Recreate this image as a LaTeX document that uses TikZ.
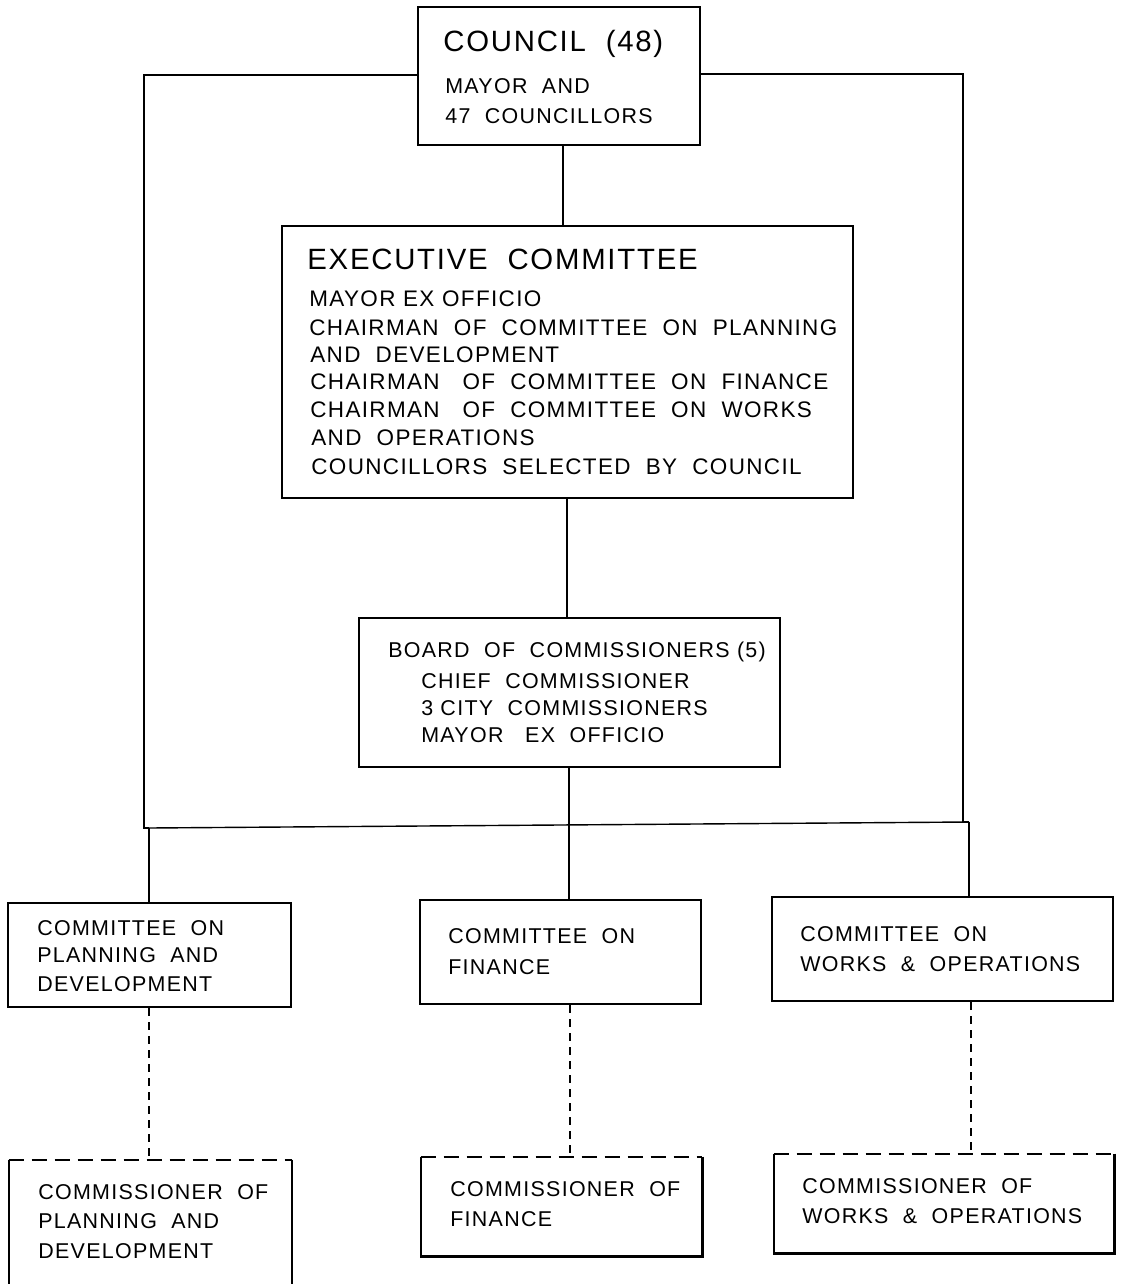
\documentclass[tikz,border=0pt]{standalone}
\usepackage{fontspec}
\setmainfont{Liberation Sans}[LetterSpace=6]
\usetikzlibrary{fit}
\newcommand{\fbig}{\fontsize{16.7}{20}\selectfont}
\newcommand{\fmid}{\fontsize{12.8}{15}\selectfont}
\newcommand{\fsm}{\fontsize{12.2}{14}\selectfont}
\tikzset{
  box/.style={draw, line width=1.3pt, inner sep=0pt},
  dbox/.style={inner sep=0pt},
  edge/.style={line width=1.3pt},
  dedge/.style={line width=1.3pt, dash pattern=on 0.3cm off 0.16cm},
  conn/.style={line width=0.8pt},
  dconn/.style={line width=0.8pt, dash pattern=on 0.16cm off 0.12cm},
  txt/.style={anchor=west, inner sep=0pt, text height=0.72em, text depth=0pt},
}
\begin{document}
\begin{tikzpicture}[x=0.02cm,y=-0.02cm]
\useasboundingbox (0,0) rectangle (1122,1284);
% boxes
\node[box, fit={(418,7) (700,145)}] (council) {};
\node[box, fit={(282,226) (853,498)}] (exec) {};
\node[box, fit={(359,618) (780,767)}] (board) {};
\node[box, fit={(8,903) (291,1007)}] (cpd) {};
\node[box, fit={(420,900) (701,1004)}] (cfin) {};
\node[box, fit={(772,897) (1113,1001)}] (cwo) {};
\node[dbox, fit={(9,1160) (292,1284)}] (mpd) {};
\node[dbox, fit={(421,1157) (702,1256)}] (mfin) {};
\node[dbox, fit={(774,1154) (1114,1253)}] (mwo) {};
% commissioner boxes: dashed top, solid sides/bottom
\draw[dedge] (mpd.north west) -- (mpd.north east);
\draw[edge] (mpd.north east) -- (mpd.south east);
\draw[edge] (mpd.north west) -- (mpd.south west);
\draw[dedge] (mfin.north west) -- (mfin.north east);
\draw[edge] (mfin.north east) -- (mfin.south east) -- (mfin.south west) -- (mfin.north west);
\draw[dedge] (mwo.north west) -- (mwo.north east);
\draw[edge] (mwo.north east) -- (mwo.south east) -- (mwo.south west) -- (mwo.north west);
% connectors
\coordinate (busL) at (149,828);
\coordinate (busR) at (969,822);
\draw[conn] (council.west |- 0,75) -- (144,75) -- (144,828) -- (busL);
\draw[conn] (council.east |- 0,74) -- (963,74) -- (963,822) -- (busR);
\draw[conn] (busL) -- (busR);
\draw[conn] (council.south -| 563,0) -- (exec.north -| 563,0);
\draw[conn] (exec.south -| 567,0) -- (board.north -| 567,0);
\draw[conn] (board.south -| 569,0) -- (cfin.north -| 569,0);
\draw[conn] (busL) -- (cpd.north -| busL);
\draw[conn] (busR) -- (cwo.north -| busR);
\draw[dconn] (cpd.south -| 149,0) -- (mpd.north -| 149,0);
\draw[dconn] (cfin.south -| 570,0) -- (mfin.north -| 570,0);
\draw[dconn] (cwo.south -| 971,0) -- (mwo.north -| 971,0);
% texts
\node[txt, font=\fbig] (t1) at (443,45) {COUNCIL\ \ (48)};
\node[txt, font=\fsm] (t2) at (445,87) {MAYOR\ \ AND};
\node[txt, font=\fsm] (t3) at (445,117) {47\ \ COUNCILLORS};
\node[txt, font=\fbig] (e0) at (307,263) {EXECUTIVE\ \ COMMITTEE};
\node[txt, font=\fmid] (e1) at (309,300) {MAYOR\ EX\ OFFICIO};
\node[txt, font=\fmid] (e2) at (309,329) {CHAIRMAN\ \ OF\ \ COMMITTEE\ \ ON\ \ PLANNING};
\node[txt, font=\fmid] (e3) at (310,356) {AND\ \ DEVELOPMENT};
\node[txt, font=\fmid] (e4) at (310,383) {CHAIRMAN\ \ \ OF\ \ COMMITTEE\ \ ON\ \ FINANCE};
\node[txt, font=\fmid] (e5) at (310,411) {CHAIRMAN\ \ \ OF\ \ COMMITTEE\ \ ON\ \ WORKS};
\node[txt, font=\fmid] (e6) at (311,439) {AND\ \ OPERATIONS};
\node[txt, font=\fmid] (e7) at (311,468) {COUNCILLORS\ \ SELECTED\ \ BY\ \ COUNCIL};
\node[txt, font=\fsm] (b0) at (388,651) {BOARD\ \ OF\ \ COMMISSIONERS\ (5)};
\node[txt, font=\fsm] (b1) at (421,682) {CHIEF\ \ COMMISSIONER};
\node[txt, font=\fsm] (b2) at (421,709) {3\ CITY\ \ COMMISSIONERS};
\node[txt, font=\fsm] (b3) at (421,736) {MAYOR\ \ \ EX\ \ OFFICIO};
\node[txt, font=\fsm] (c1) at (37,929) {COMMITTEE\ \ ON};
\node[txt, font=\fsm] (c2) at (37,956) {PLANNING\ \ AND};
\node[txt, font=\fsm] (c3) at (37,985) {DEVELOPMENT};
\node[txt, font=\fsm] (f1) at (448,937) {COMMITTEE\ \ ON};
\node[txt, font=\fsm] (f2) at (448,968) {FINANCE};
\node[txt, font=\fsm] (w1) at (800,935) {COMMITTEE\ \ ON};
\node[txt, font=\fsm] (w2) at (800,965) {WORKS\ \ \&\ \ OPERATIONS};
\node[txt, font=\fsm] (m1) at (38,1193) {COMMISSIONER\ \ OF};
\node[txt, font=\fsm] (m2) at (38,1222) {PLANNING\ \ AND};
\node[txt, font=\fsm] (m3) at (38,1252) {DEVELOPMENT};
\node[txt, font=\fsm] (n1) at (450,1190) {COMMISSIONER\ \ OF};
\node[txt, font=\fsm] (n2) at (450,1220) {FINANCE};
\node[txt, font=\fsm] (o1) at (802,1187) {COMMISSIONER\ \ OF};
\node[txt, font=\fsm] (o2) at (802,1217) {WORKS\ \ \&\ \ OPERATIONS};
\end{tikzpicture}
\end{document}
